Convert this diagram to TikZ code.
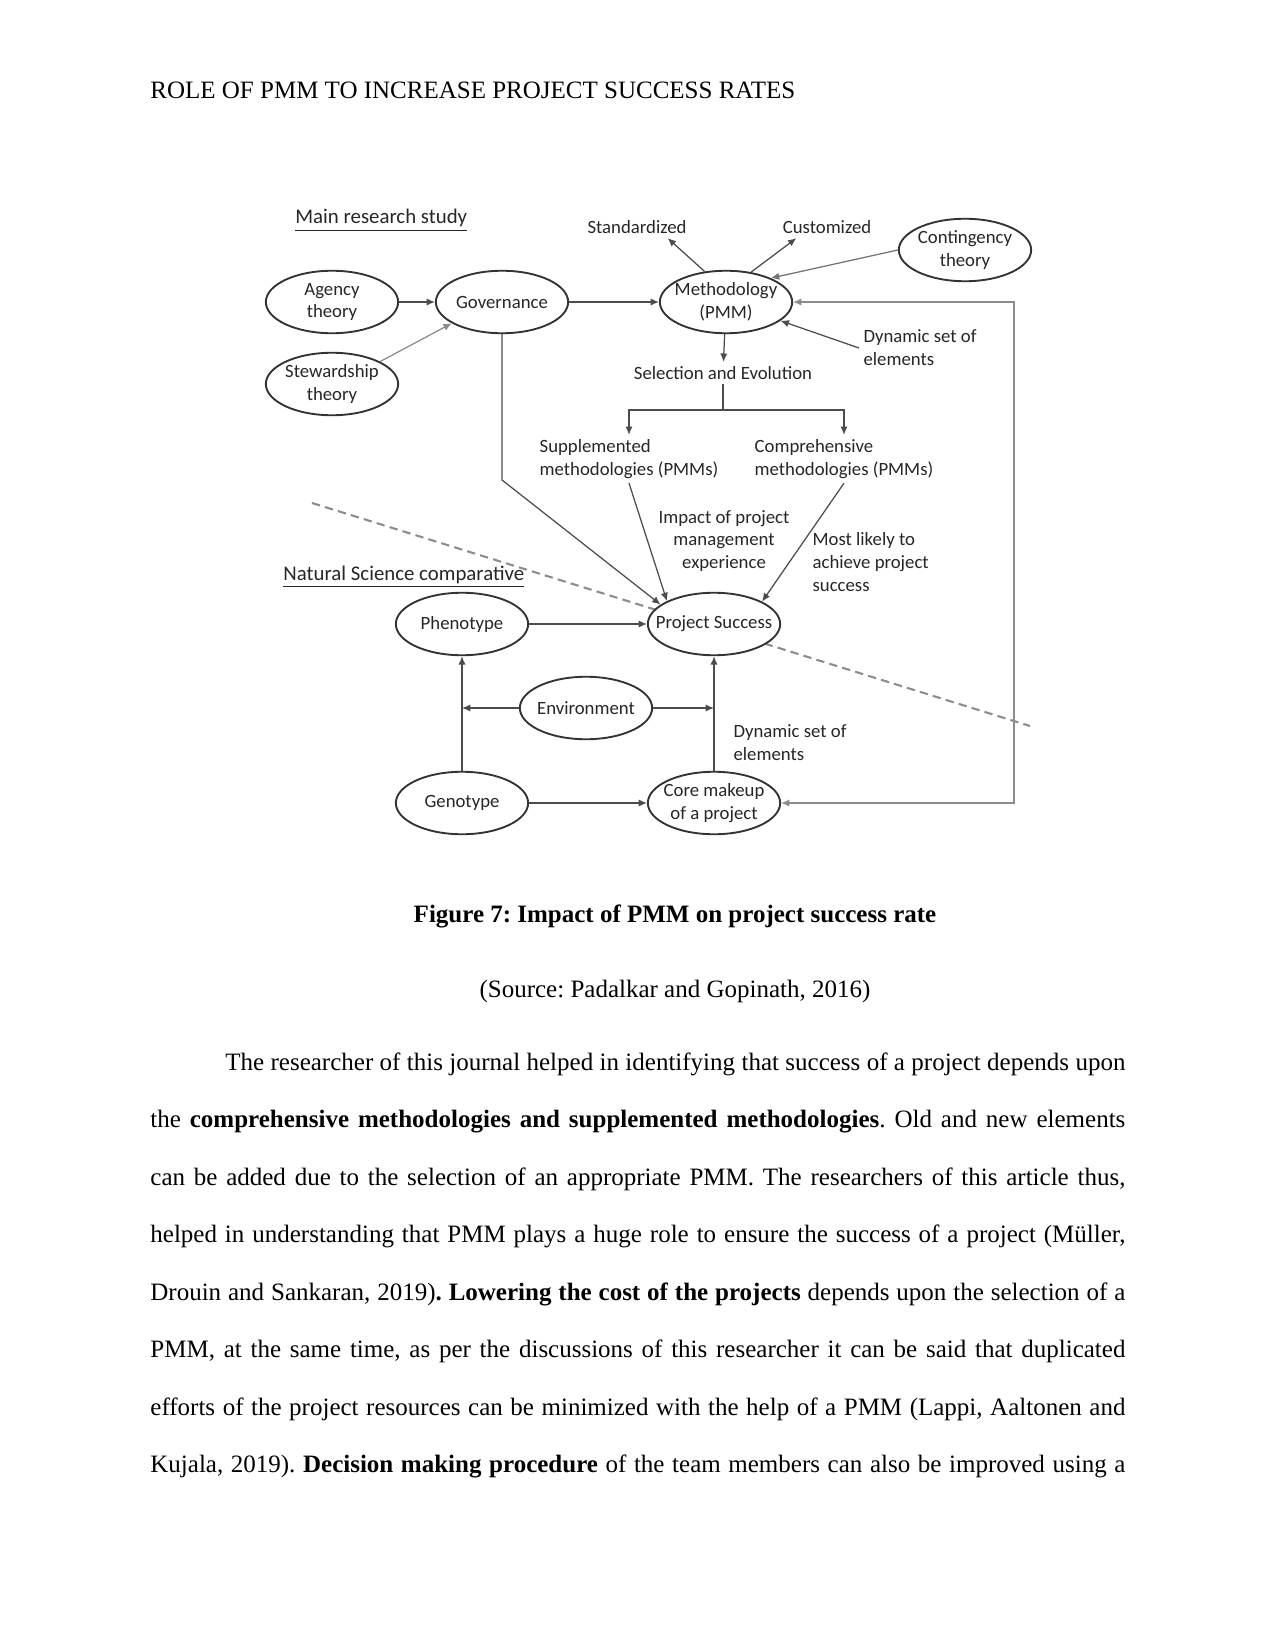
\documentclass[tikz,border=0pt]{standalone}
\usepackage{fontspec}
\setmainfont{Liberation Serif}
\newfontfamily\diagfont{Carlito}
\usetikzlibrary{shapes.geometric,arrows.meta}

\newcommand{\diag}{\diagfont\fontsize{9}{11}\selectfont}
\newcommand{\pagefont}{\fontsize{12}{14.4}\selectfont}
\newcommand{\nb}[1]{\makebox[0pt]{#1}}

\tikzset{
  oval/.style={ellipse, draw=black!80, line width=0.9pt, fill=white, text=black!85,
    minimum width=63.5pt, minimum height=30pt, inner sep=0pt, align=center, font=\diag},
  lbl/.style={font=\diag, align=left, inner sep=2pt, text=black!85},
  head/.style={font=\diagfont\fontsize{10}{12}\selectfont, anchor=base west, inner sep=0pt, text=black!85},
  conn/.style={black!70, line width=0.6pt, -{Latex[length=4pt,width=3.5pt]}},
  plain/.style={black!70, line width=0.6pt},
  fb/.style={black!45, line width=0.6pt, {Latex[length=4pt,width=3.5pt]}-{Latex[length=4pt,width=3.5pt]}},
  cut/.style={black!45, line width=1pt, dash pattern=on 4pt off 2.5pt},
}

\begin{document}
\frenchspacing
\begin{tikzpicture}[x=0.48pt,y=-0.48pt]
\useasboundingbox (0,0) rectangle (1275,1651);

% running head
\node[anchor=base west, inner sep=0pt, font=\pagefont] (header) at (150,99)
  {ROLE OF PMM TO INCREASE PROJECT SUCCESS RATES};

% dividing line between the two halves, drawn first so the ovals cover it
\coordinate (cutL) at (312,503);
\coordinate (cutR) at (1030,726);
\draw[cut] (cutL) -- (cutR);

% main research study
\node[head] (mainhd) at (295,224) {\underline{Main research study}};
\node[oval] (agency) at (332,302) {\nb{Agency}\\\nb{theory}};
\node[oval] (stew) at (332,384) {\nb{Stewardship}\\\nb{theory}};
\node[oval] (gov) at (502,302) {\nb{Governance}};
\node[oval] (meth) at (726,302) {\nb{Methodology}\\\nb{(PMM)}};
\node[oval] (cont) at (965,250) {\nb{Contingency}\\\nb{theory}};
\node[lbl] (std) at (637,227) {Standardized};
\node[lbl] (cust) at (827,227) {Customized};
\node[lbl,anchor=west] (dyntop) at (859,348) {Dynamic set of\\elements};
\node[lbl] (sel) at (723,373) {Selection and Evolution};
\node[lbl] (suppl) at (629,459) {Supplemented\\methodologies (PMMs)};
\node[lbl] (comp) at (844,459) {Comprehensive\\methodologies (PMMs)};
\node[lbl,align=center] (impact) at (724,541) {Impact of project\\management\\experience};
\node[lbl,anchor=west] (likely) at (808,562) {Most likely to\\achieve project\\success};

% natural science comparative
\node[head] (nathd) at (283,580) {\underline{Natural Science comparative}};
\node[oval] (pheno) at (462,624) {\nb{Phenotype}};
\node[oval] (psucc) at (714,624) {\nb{Project Success}};
\node[oval] (env) at (586,708) {\nb{Environment}};
\node[oval] (geno) at (462,803) {\nb{Genotype}};
\node[oval] (core) at (714,803) {\nb{Core makeup}\\\nb{of a project}};
\node[lbl,anchor=west] (dynbot) at (729,743) {Dynamic set of\\elements};

% connectors, upper half
\draw[conn] (agency) -- (gov);
\draw[conn,black!45] (stew.25) -- (gov.203);
\draw[conn] (gov) -- (meth);
\draw[conn] (meth.125) -- (std.-20);
\draw[conn] (meth.50) -- (cust.200);
\draw[conn,black!55] (cont.west) -- (meth.28);
\draw[conn] (dyntop.west) -- (meth.-19);
\draw[conn] (meth) -- (sel);
\coordinate (fork) at (723,410);
\draw[plain] (sel) -- (fork);
\draw[conn] (fork) -| (suppl);
\draw[conn] (fork) -| (comp);
\coordinate (govbend) at (502,480);
\draw[conn] (gov) -- (govbend) -- (psucc.160);
\draw[conn] (suppl.south) -- (psucc.154);
\draw[conn] (comp.south) -- (psucc.25);

% connectors, lower half
\draw[conn] (pheno) -- (psucc);
\draw[conn] (geno) -- (pheno);
\draw[conn] (core) -- (psucc);
\draw[conn] (geno) -- (core);
\draw[conn] (env.west) -- (env.west -| pheno);
\draw[conn] (env.east) -- (env.east -| psucc);
\coordinate (loopx) at (1014,550);
\draw[fb] (meth.east) -| (loopx) |- (core.east);

% caption and body text
\node[font=\pagefont\bfseries, anchor=base] (caption) at (675,922)
  {Figure 7: Impact of PMM on project success rate};
\node[font=\pagefont, anchor=base] (source) at (675,997)
  {(Source: Padalkar and Gopinath, 2016)};
\node[anchor=base west, inner sep=0pt, text width=468pt, align=justify,
      font=\fontsize{12}{27.6}\selectfont] (body) at (150,1070)
  {\tolerance=10000
   \hspace*{36pt}The researcher of this journal helped in identifying that success of a project depends upon\linebreak
   the \textbf{comprehensive methodologies and supplemented methodologies}. Old and new elements\linebreak
   can be added due to the selection of an appropriate PMM. The researchers of this article thus,\linebreak
   helped in understanding that PMM plays a huge role to ensure the success of a project (Müller,\linebreak
   Drouin and Sankaran, 2019)\textbf{. Lowering the cost of the projects} depends upon the selection of a\linebreak
   PMM, at the same time, as per the discussions of this researcher it can be said that duplicated\linebreak
   efforts of the project resources can be minimized with the help of a PMM (Lappi, Aaltonen and\linebreak
   Kujala, 2019). \textbf{Decision making procedure} of the team members can also be improved using a\linebreak};
\end{tikzpicture}
\end{document}
